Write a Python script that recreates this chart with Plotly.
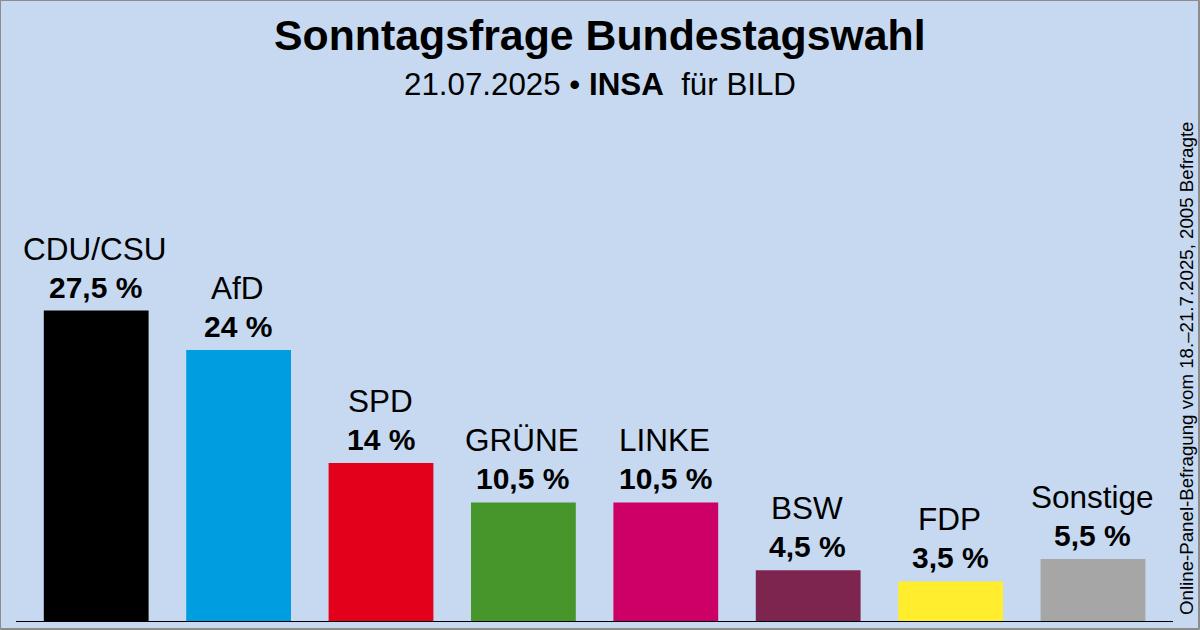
import plotly.graph_objects as go

parties = ["CDU/CSU", "AfD", "SPD", "GRÜNE", "LINKE", "BSW", "FDP", "Sonstige"]
values = [27.5, 24, 14, 10.5, 10.5, 4.5, 3.5, 5.5]
value_labels = ["27,5 %", "24 %", "14 %", "10,5 %", "10,5 %", "4,5 %", "3,5 %", "5,5 %"]
colors = ["#000000", "#009EE0", "#E3001B", "#46962B", "#CC0066", "#7D254F", "#FFED2E", "#A6A6A6"]

W, H = 1200, 630
L, R, T, B = 16, 27, 100, 9
FONT = "Liberation Sans"
px_per_x = 142.4
x0 = -80.2 / px_per_x
x1 = x0 + (W - L - R) / px_per_x
y1 = (H - T - B) / 11.29


def paper_x(p):
    return (p - L) / (W - L - R)


def paper_y(p):
    return (H - B - p) / (H - T - B)


fig = go.Figure(
    go.Bar(
        x=list(range(len(parties))),
        y=values,
        width=104.8 / px_per_x,
        marker=dict(color=colors, line=dict(width=0)),
        hoverinfo="skip",
    )
)

bar_labels = []
for i, (party, value, label) in enumerate(zip(parties, values, value_labels)):
    bar_labels.append(dict(text=f"<b>{label}</b>", x=i, y=value, xref="x", yref="y",
                           xanchor="center", yanchor="bottom", yshift=5, xshift=-0.5, showarrow=False,
                           font=dict(size=30, family=FONT, color="#000000")))
    bar_labels.append(dict(text=party, x=i, y=value, xref="x", yref="y",
                           xanchor="center", yanchor="bottom", yshift=42, xshift=-1, showarrow=False,
                           font=dict(size=31.5, family=FONT, color="#000000")))

fig.update_layout(
    width=W,
    height=H,
    margin=dict(l=L, r=R, t=T, b=B, pad=0),
    paper_bgcolor="#C6D9F1",
    plot_bgcolor="#C6D9F1",
    showlegend=False,
    font=dict(family=FONT, color="#000000"),
    xaxis=dict(
        range=[x0, x1],
        showticklabels=False,
        ticks="",
        showgrid=False,
        zeroline=False,
        showline=True,
        linecolor="#000000",
        linewidth=1,
    ),
    yaxis=dict(range=[0, y1], visible=False),
    annotations=bar_labels + [
        dict(text="<b>Sonntagsfrage Bundestagswahl</b>", xref="paper", yref="paper",
             x=paper_x(600), y=paper_y(35), xanchor="center", yanchor="middle",
             showarrow=False, font=dict(size=42.8, family=FONT)),
        dict(text="21.07.2025 • <b>INSA</b>  für BILD", xref="paper", yref="paper",
             x=paper_x(600), y=paper_y(84.5), xanchor="center", yanchor="middle",
             showarrow=False, font=dict(size=31.3, family=FONT)),
        dict(text="Online-Panel-Befragung vom 18.–21.7.2025, 2005 Befragte", xref="paper", yref="paper",
             x=paper_x(1186.5), y=paper_y(368.5), xanchor="center", yanchor="middle", textangle=-90,
             showarrow=False, font=dict(size=18.7, family=FONT)),
    ],
    shapes=[
        dict(type="rect", xref="paper", yref="paper",
             x0=paper_x(0.5), x1=paper_x(1199.5), y0=paper_y(629.5), y1=paper_y(0.5),
             line=dict(color="#8C8C8C", width=1), fillcolor="rgba(0,0,0,0)", layer="above"),
        dict(type="rect", xref="paper", yref="paper",
             x0=paper_x(0.5), x1=paper_x(1198.5), y0=paper_y(628.5), y1=paper_y(0.5),
             line=dict(color="#8C8C8C", width=1), fillcolor="rgba(0,0,0,0)", layer="above"),
    ],
)

fig.write_html("out.html", config=dict(displayModeBar=False),
               post_script="document.body.style.margin='0';")
